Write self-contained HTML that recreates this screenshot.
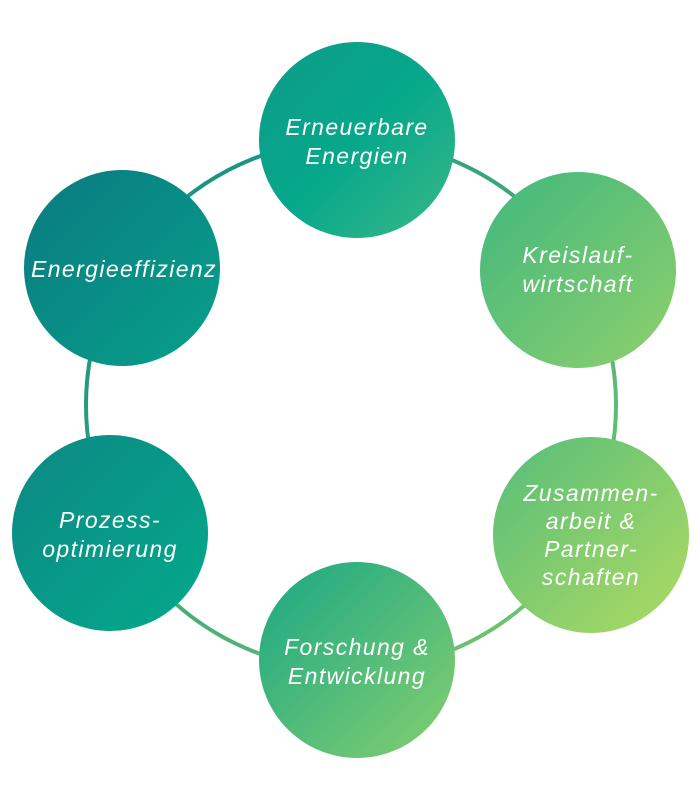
<!DOCTYPE html>
<html><head><meta charset="utf-8"><style>
html,body{margin:0;padding:0;background:#fff;}
body{width:700px;height:800px;overflow:hidden;}
text{font-family:"Liberation Sans",sans-serif;font-style:italic;fill:#fff;font-size:23px;letter-spacing:1.4px;text-anchor:middle;}
</style></head><body>
<svg width="700" height="800" viewBox="0 0 700 800">
<defs>
<linearGradient id="ring" x1="0" y1="0" x2="1" y2="1">
<stop offset="0" stop-color="#0b8a84"/><stop offset="1" stop-color="#7ccc6e"/></linearGradient>
<linearGradient id="g1" x1="0" y1="0" x2="1" y2="1"><stop offset="0" stop-color="#0d9a88"/><stop offset="0.5" stop-color="#06a88b"/><stop offset="1" stop-color="#3bb887"/></linearGradient>
<linearGradient id="g2" x1="0" y1="0" x2="1" y2="1"><stop offset="0" stop-color="#3fb77e"/><stop offset="1" stop-color="#8fd06c"/></linearGradient>
<linearGradient id="g3" x1="0" y1="0" x2="1" y2="1"><stop offset="0" stop-color="#55bd7a"/><stop offset="1" stop-color="#b0db62"/></linearGradient>
<linearGradient id="g4" x1="0" y1="0" x2="1" y2="1"><stop offset="0" stop-color="#18a785"/><stop offset="1" stop-color="#86cf6f"/></linearGradient>
<linearGradient id="g5" x1="0" y1="0" x2="1" y2="1"><stop offset="0" stop-color="#0c8884"/><stop offset="1" stop-color="#03aa8b"/></linearGradient>
<linearGradient id="g6" x1="0" y1="0" x2="1" y2="1"><stop offset="0" stop-color="#0a7a82"/><stop offset="1" stop-color="#07a089"/></linearGradient>
</defs>
<circle cx="351" cy="405" r="265" fill="none" stroke="url(#ring)" stroke-width="4"/>
<circle cx="357" cy="140" r="98" fill="url(#g1)"/>
<circle cx="578" cy="270" r="98" fill="url(#g2)"/>
<circle cx="591" cy="535" r="98" fill="url(#g3)"/>
<circle cx="357" cy="660" r="98" fill="url(#g4)"/>
<circle cx="110" cy="533" r="98" fill="url(#g5)"/>
<circle cx="122" cy="268" r="98" fill="url(#g6)"/>
<text x="357" y="135">Erneuerbare</text><text x="357" y="164">Energien</text>
<text x="578" y="263">Kreislauf-</text><text x="578" y="292">wirtschaft</text>
<text x="591" y="501">Zusammen-</text><text x="591" y="529">arbeit &amp;</text><text x="591" y="557">Partner-</text><text x="591" y="585">schaften</text>
<text x="357" y="655">Forschung &amp;</text><text x="357" y="684">Entwicklung</text>
<text x="110" y="528">Prozess-</text><text x="110" y="557">optimierung</text>
<text x="124" y="277">Energieeffizienz</text>
</svg>
</body></html>
